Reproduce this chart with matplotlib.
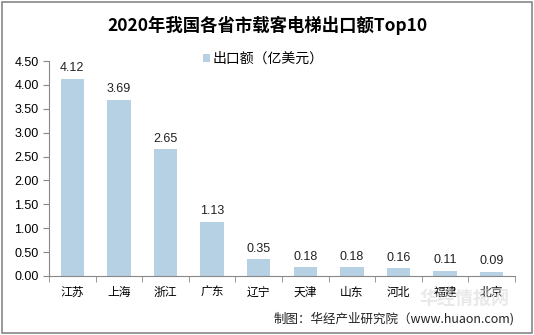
import matplotlib.pyplot as plt
from matplotlib.patches import Rectangle

plt.rcParams['font.family'] = ['Noto Sans CJK SC', 'DejaVu Sans']

# provinces and export value (100 million USD)
provinces = ["江苏", "上海", "浙江", "广东", "辽宁", "天津", "山东", "河北", "福建", "北京"]
export_value = [4.12, 3.69, 2.65, 1.13, 0.35, 0.18, 0.18, 0.16, 0.11, 0.09]
yticks = [0.0, 0.5, 1.0, 1.5, 2.0, 2.5, 3.0, 3.5, 4.0, 4.5]

fig = plt.figure(figsize=(5.34, 3.35), dpi=100)
ax = fig.add_axes([49/534, 59/335, 466/534, 215/335])

x = range(len(provinces))
ax.bar(x, export_value, width=0.5, color="#B7D1E4", label="出口额（亿美元）")
for i, v in enumerate(export_value):
    ax.text(i, v + 0.1, f"{v:.2f}", ha="center", va="bottom", fontsize=9,
            family="Liberation Sans", color="#222222")

ax.set_xlim(-0.5, len(provinces) - 0.5)
ax.set_ylim(0, 4.5)
ax.set_yticks(yticks)
ax.set_yticklabels([f"{t:.2f}" for t in yticks], fontsize=9, family="Liberation Sans")
ax.set_xticks(list(x))
ax.set_xticklabels(provinces, fontsize=8.5)
ax.set_xticks([i + 0.5 for i in range(-1, len(provinces))], minor=True)
ax.tick_params(axis="x", which="major", length=0, pad=7)
ax.tick_params(axis="x", which="minor", length=4, color="#888888", direction="out")
ax.tick_params(axis="y", length=4, color="#888888", direction="out")

for side in ["top", "right"]:
    ax.spines[side].set_visible(False)
ax.spines["left"].set_color("#888888")
ax.spines["bottom"].set_color("#888888")

fig.text(0.5, 0.925, "2020年我国各省市载客电梯出口额Top10", ha="center", va="center",
         fontsize=12.5, fontweight="bold")
ax.legend(loc="upper center", bbox_to_anchor=(0.46, 1.1), frameon=False,
          fontsize=10, handlelength=0.5, handleheight=0.5, handletextpad=0.2)

# faint site watermark, kept below the axis labels
fig.text(0.87, 0.105, "华经情报网", ha="center", va="center", fontsize=13,
         fontweight="bold", color="#D5D5D5", alpha=0.5, zorder=0)

fig.text(515/534, 0.05, "制图：华经产业研究院（www.huaon.com)", ha="right", va="center",
         fontsize=9, color="#222222")

fig.patches.append(Rectangle((0.004, 0.006), 0.992, 0.988, transform=fig.transFigure,
                             fill=False, edgecolor="#888888", linewidth=1.2))

fig.savefig("out.png", dpi=100)
